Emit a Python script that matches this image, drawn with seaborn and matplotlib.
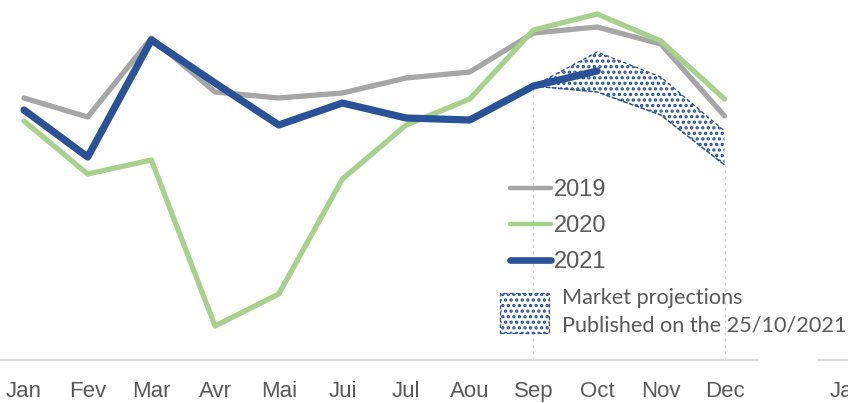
import matplotlib
matplotlib.use("Agg")
import matplotlib.pyplot as plt
import seaborn as sns
from matplotlib.lines import Line2D
from matplotlib.patches import Patch

months = ["Jan", "Fev", "Mar", "Avr", "Mai", "Jui", "Jul", "Aou", "Sep", "Oct", "Nov", "Dec"]
sales_2019 = [262, 243, 322, 268, 262, 267, 282, 288, 327, 333, 316, 244]
sales_2020 = [239, 186, 200, 34, 66, 181, 235, 261, 330, 346, 319, 261]
sales_2021 = [250, 203, 320, 277, 235, 257, 242, 240, 274, 289]
proj_months = ["Sep", "Oct", "Nov", "Dec"]
proj_high = [274, 308, 283, 229]
proj_low = [274, 268, 245, 195]

GREY = "#A6A6A6"
GREEN = "#A9D18E"
BLUE = "#2A5298"
TEXT = "#595959"

sns.set_style("white")
plt.rcParams["font.family"] = ["Liberation Sans", "DejaVu Sans"]
plt.rcParams["hatch.linewidth"] = 1.6
plt.rcParams["hatch.color"] = BLUE

fig = plt.figure(figsize=(8.48, 4.03), dpi=100)

# start of the neighbouring panel, cut off at the figure edge (drawn first, transparent)
ax2 = fig.add_axes([819 / 848, 43 / 403, 0.2, 360 / 403])
ax2.patch.set_visible(False)
ax2.set_xlim(-0.34, 1.66)
ax2.set_ylim(0, 360)
ax2.set_xticks([0])
ax2.set_xticklabels(["Jan"], fontsize=16, color=TEXT)
ax2.set_yticks([])
ax2.tick_params(axis="x", length=0, pad=15)
for side in ["top", "left", "right"]:
    ax2.spines[side].set_visible(False)
ax2.spines["bottom"].set_color("#D9D9D9")
ax2.spines["bottom"].set_linewidth(1.6)

ax = fig.add_axes([0, 43 / 403, 757 / 848, 360 / 403])
ax.patch.set_visible(False)

x_all = list(range(len(months)))
x_proj = [months.index(m) for m in proj_months]

# projection band first so lines sit on top
ax.fill_between(x_proj, proj_low, proj_high, facecolor="none", edgecolor=BLUE,
                hatch="...", linewidth=0, zorder=1)
ax.plot(x_proj, proj_high, color=BLUE, lw=0.9, ls=(0, (3, 2)), zorder=2)
ax.plot(x_proj, proj_low, color=BLUE, lw=1.1, ls=(0, (3, 1)), zorder=2)
ax.vlines([x_proj[0], x_proj[-1]], 0, [proj_low[0], proj_low[-1]],
          colors="#C9CFDD", lw=0.9, ls=(0, (2, 3)), zorder=0)

sns.lineplot(x=x_all, y=sales_2019, color=GREY, lw=3.8, ax=ax, zorder=3)
sns.lineplot(x=x_all, y=sales_2020, color=GREEN, lw=3.8, ax=ax, zorder=3)
sns.lineplot(x=x_all[:len(sales_2021)], y=sales_2021, color=BLUE, lw=5.2, ax=ax,
             zorder=4, solid_capstyle="round")

ax.set_xlim(-0.377, 11.51)
ax.set_ylim(0, 360)
ax.set_xticks(x_all)
ax.set_xticklabels(months, fontsize=16, color=TEXT)
ax.set_yticks([])
ax.tick_params(axis="x", length=0, pad=15)
for side in ["top", "left", "right"]:
    ax.spines[side].set_visible(False)
ax.spines["bottom"].set_color("#D9D9D9")
ax.spines["bottom"].set_linewidth(1.6)

year_handles = [
    Line2D([], [], color=GREY, lw=3.2),
    Line2D([], [], color=GREEN, lw=3.2),
    Line2D([], [], color=BLUE, lw=4.8),
]
leg1 = ax.legend(year_handles, ["2019", "2020", "2021"], loc="upper left",
                 bbox_to_anchor=(510 / 848, 1 - 179 / 403), bbox_transform=fig.transFigure,
                 frameon=False, fontsize=17, handlelength=1.75, handletextpad=0.1,
                 labelspacing=0.6, borderpad=0, borderaxespad=0)
for t in leg1.get_texts():
    t.set_color(TEXT)
ax.add_artist(leg1)

proj_handle = Patch(facecolor="white", edgecolor=BLUE, hatch="...", ls=(0, (3, 2)), lw=0.9)
leg2 = ax.legend([proj_handle], ["Market projections\nPublished on the 25/10/2021"],
                 loc="upper left", bbox_to_anchor=(500 / 848, 1 - 288 / 403),
                 bbox_transform=fig.transFigure, frameon=False,
                 prop={"family": "Lato", "size": 15.6}, handlelength=2.25,
                 handleheight=2.5, handletextpad=0.62, borderpad=0, borderaxespad=0)
for t in leg2.get_texts():
    t.set_color(TEXT)
    t.set_linespacing(1.47)

fig.savefig("out.png", dpi=100)
